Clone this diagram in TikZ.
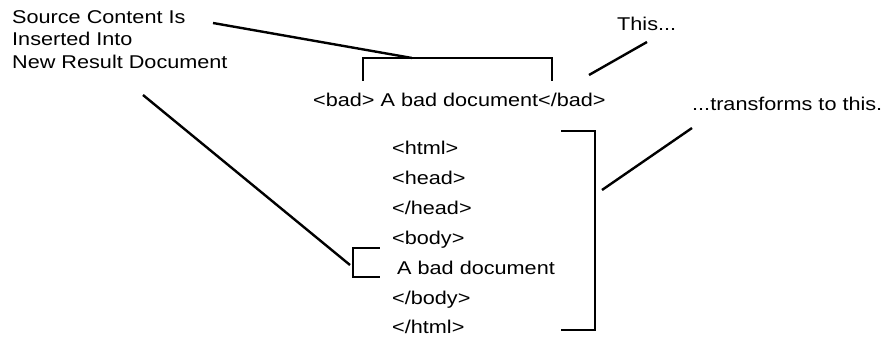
\documentclass[tikz,border=0pt]{standalone}
\usepackage{fontspec}
\setmainfont{Liberation Sans}[FakeStretch=1.17]
\begin{document}
\begin{tikzpicture}[x=1pt,y=-1pt,
  txt/.style={anchor=base west,inner sep=0pt,font=\fontsize{18.5}{22.3}\selectfont},
  lnk/.style={line width=2.4pt},
  brk/.style={line width=2.4pt,line cap=rect}]
\path[use as bounding box,fill=white] (0,0) rectangle (891,337);
% texts
\node[txt,align=left] (src) at (12,68) {Source Content Is\\Inserted Into\\New Result Document};
\node[txt] (bad) at (313,106) {<bad> A bad document</bad>};
\node[txt] (this) at (617,31) {This...};
\node[txt] (trans) at (692,110) {...transforms to this.};
\node[txt] (l1) at (392,154) {<html>};
\node[txt] (l2) at (392,184) {<head>};
\node[txt] (l3) at (392,214) {</head>};
\node[txt] (l4) at (392,244) {<body>};
\node[txt] (l5) at (397,274) {A bad document};
\node[txt] (l6) at (392,304) {</body>};
\node[txt] (l7) at (392,333) {</html>};
% brackets
\coordinate (tb1) at (363,80); \coordinate (tb2) at (363,58);
\coordinate (tb3) at (552,58); \coordinate (tb4) at (552,80);
\draw[brk] (tb1) -- (tb2) -- (tb3) -- (tb4);
\coordinate (bb1) at (562,131); \coordinate (bb2) at (595,131);
\coordinate (bb3) at (595,330); \coordinate (bb4) at (562,330);
\draw[brk] (bb1) -- (bb2) -- (bb3) -- (bb4);
\coordinate (sb1) at (379,248); \coordinate (sb2) at (353,248);
\coordinate (sb3) at (353,277); \coordinate (sb4) at (379,277);
\draw[brk] (sb1) -- (sb2) -- (sb3) -- (sb4);
% connectors
\coordinate (c1a) at (213,23); \coordinate (c1b) at (412,58);
\draw[lnk] (c1a) -- (c1b);
\coordinate (c2a) at (143,95); \coordinate (c2b) at (350,265);
\draw[lnk] (c2a) -- (c2b);
\coordinate (c3a) at (589,75); \coordinate (c3b) at (647,42);
\draw[lnk] (c3a) -- (c3b);
\coordinate (c4a) at (602,190); \coordinate (c4b) at (692,128);
\draw[lnk] (c4a) -- (c4b);
\end{tikzpicture}
\end{document}
